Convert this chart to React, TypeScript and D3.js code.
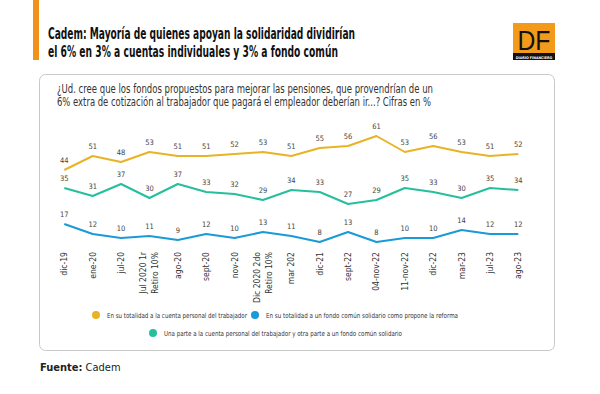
import { useEffect, useRef } from "react";
import * as d3 from "d3";

const categories = [
  "dic-19",
  "ene-20",
  "jul-20",
  "Jul 2020 1r|Retiro 10%",
  "ago-20",
  "sept-20",
  "nov-20",
  "Dic 2020 2do|Retiro 10%",
  "mar 202",
  "dic-21",
  "sept-22",
  "04-nov-22",
  "11-nov-22",
  "dic-22",
  "mar-23",
  "jul-23",
  "ago-23",
];

const cuentaPersonal = [44, 51, 48, 53, 51, 51, 52, 53, 51, 55, 56, 61, 53, 56, 53, 51, 52];
const fondoComun = [17, 12, 10, 11, 9, 12, 10, 13, 11, 8, 13, 8, 10, 10, 14, 12, 12];
const unaParte = [35, 31, 37, 30, 37, 33, 32, 29, 34, 33, 27, 29, 35, 33, 30, 35, 34];

const seriesNames = [
  "En su totalidad a la cuenta personal del trabajador",
  "En su totalidad a un fondo común solidario como propone la reforma",
  "Una parte a la cuenta personal del trabajador y otra parte a un fondo común solidario",
];
const colors = ["#E8B424", "#1A9AD6", "#26BF9C"];

const title = [
  "Cadem: Mayoría de quienes apoyan la solidaridad dividirían",
  "el 6% en 3% a cuentas individuales y 3% a fondo común",
];
const subtitle = [
  "¿Ud. cree que los fondos propuestos para mejorar las pensiones, que provendrían de un",
  "6% extra de cotización al trabajador que pagará el empleador deberían ir...? Cifras en %",
];

const FONT = "'Liberation Sans Narrow', 'DejaVu Sans Condensed', 'Roboto', sans-serif";

const App = () => {
  const chartRef = useRef<SVGSVGElement>(null);

  useEffect(() => {
    if (!chartRef.current) return;
    const width = 600;
    const height = 394;
    const svg = d3.select(chartRef.current);
    svg.selectAll("*").remove();
    svg.attr("width", width).attr("height", height).style("font-family", FONT);

    svg.append("rect").attr("width", width).attr("height", height).attr("fill", "#fff");

    // orange side bar + title
    svg.append("rect").attr("x", 33).attr("y", 0).attr("width", 6).attr("height", 60).attr("fill", "#F0921C");
    title.forEach((t, i) => {
      svg
        .append("text")
        .attr("x", 48)
        .attr("y", 39 + i * 18)
        .attr("font-size", 15.5)
        .attr("font-weight", "bold")
        .attr("fill", "#111")
        .attr("textLength", i === 0 ? 307 : 290)
        .attr("lengthAdjust", "spacingAndGlyphs")
        .text(t);
    });

    // DF logo
    const logo = svg.append("g");
    logo.append("rect").attr("x", 513).attr("y", 23).attr("width", 42).attr("height", 37).attr("fill", "#F39A1A");
    logo.append("rect").attr("x", 513).attr("y", 53).attr("width", 42).attr("height", 7).attr("fill", "#111");
    logo
      .append("text")
      .attr("x", 534)
      .attr("y", 49.5)
      .attr("text-anchor", "middle")
      .attr("font-size", 27)
      .attr("font-family", "'Liberation Sans', Arial, sans-serif")
      .attr("fill", "#111")
      .attr("textLength", 33)
      .attr("lengthAdjust", "spacingAndGlyphs")
      .text("DF");
    logo
      .append("text")
      .attr("x", 534)
      .attr("y", 59.3)
      .attr("text-anchor", "middle")
      .attr("font-size", 3.6)
      .attr("font-weight", "bold")
      .attr("fill", "#fff")
      .text("DIARIO FINANCIERO");

    // card
    svg
      .append("rect")
      .attr("x", 39.5)
      .attr("y", 74.5)
      .attr("width", 515)
      .attr("height", 276)
      .attr("rx", 6)
      .attr("fill", "#fff")
      .attr("stroke", "#c8c8c8");

    subtitle.forEach((t, i) => {
      svg
        .append("text")
        .attr("x", 57)
        .attr("y", 93 + i * 13)
        .attr("font-size", 11.5)
        .attr("fill", "#333")
        .attr("textLength", i === 0 ? 376 : 374)
        .attr("lengthAdjust", "spacingAndGlyphs")
        .text(t);
    });

    const xScale = d3
      .scalePoint<number>()
      .domain(d3.range(categories.length))
      .range([64.3, 518.3]);

    const yScale = d3.scaleLinear().domain([0, 61]).range([258, 136]);

    const line = d3
      .line<number>()
      .x((_, i) => xScale(i) as number)
      .y((d) => yScale(d));

    [cuentaPersonal, fondoComun, unaParte].forEach((data, s) => {
      svg
        .append("path")
        .datum(data)
        .attr("d", line)
        .attr("fill", "none")
        .attr("stroke", colors[s])
        .attr("stroke-width", 2)
        .attr("stroke-linejoin", "round");

      svg
        .append("g")
        .selectAll("text")
        .data(data)
        .join("text")
        .attr("x", (_, i) => xScale(i) as number)
        .attr("y", (d) => yScale(d) - 7)
        .attr("text-anchor", "middle")
        .attr("font-size", 7.5)
        .attr("fill", "#444")
        .text((d) => d);
    });

    // x axis labels, rotated
    const xLabels = svg.append("g");
    categories.forEach((c, i) => {
      const parts = c.split("|");
      const x = xScale(i) as number;
      parts.forEach((p, j) => {
        const dx = parts.length > 1 ? (j === 0 ? -6 : 6) : 0;
        xLabels
          .append("text")
          .attr("transform", `translate(${x + dx + 3},252) rotate(-90)`)
          .attr("text-anchor", "end")
          .attr("font-size", 8.5)
          .attr("fill", "#333")
          .text(p);
      });
    });

    // legend
    const legendItems = [
      { s: 0, cx: 96, cy: 315, w: 140 },
      { s: 1, cx: 255, cy: 315, w: 192 },
      { s: 2, cx: 153, cy: 333, w: 238 },
    ];
    legendItems.forEach((l) => {
      svg.append("circle").attr("cx", l.cx).attr("cy", l.cy).attr("r", 4).attr("fill", colors[l.s]);
      svg
        .append("text")
        .attr("x", l.cx + 11)
        .attr("y", l.cy + 2.5)
        .attr("font-size", 7)
        .attr("fill", "#333")
        .attr("textLength", l.w)
        .attr("lengthAdjust", "spacingAndGlyphs")
        .text(seriesNames[l.s]);
    });

    // source
    const src = svg.append("text").attr("x", 40).attr("y", 371).attr("font-size", 11).attr("fill", "#222");
    src.append("tspan").attr("font-weight", "bold").text("Fuente:");
    src.append("tspan").text(" Cadem");
  }, []);

  return (
    <div style={{ position: "absolute", left: 0, top: 0 }}>
      <svg ref={chartRef} style={{ display: "block" }}></svg>
    </div>
  );
};

export default App;
